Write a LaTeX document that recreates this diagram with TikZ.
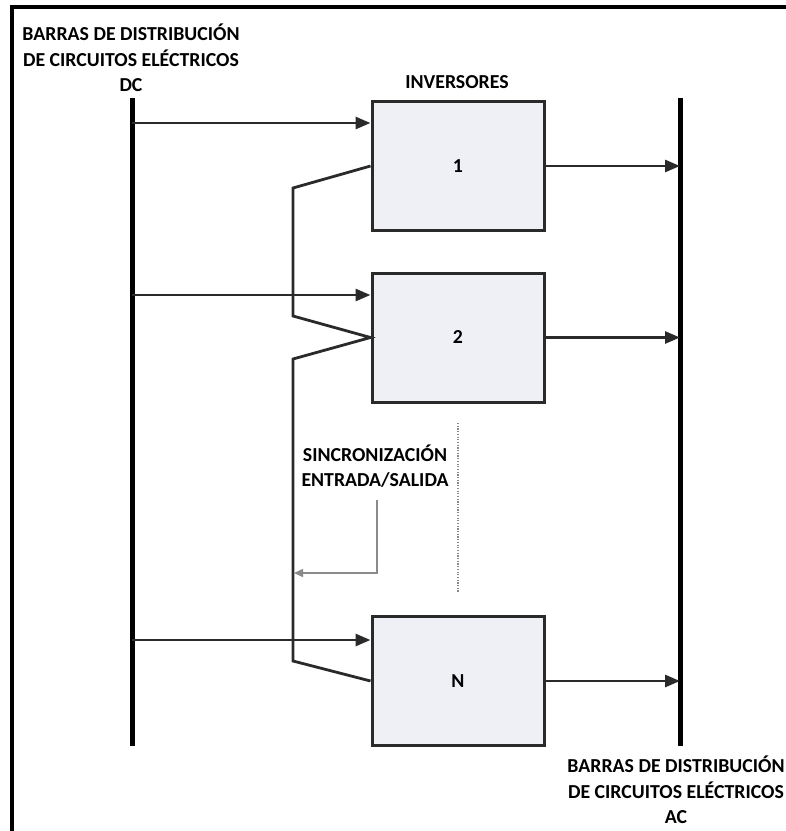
\documentclass[tikz,border=0pt]{standalone}
\usepackage{fontspec}
\setmainfont{Carlito}
\usetikzlibrary{arrows.meta}
\definecolor{boxfill}{HTML}{EEF0F5}
\definecolor{boxline}{HTML}{2A2A2A}
\definecolor{labgray}{HTML}{8A8A8A}
\begin{document}
\begin{tikzpicture}[x=1pt,y=-1pt,
  lbl/.style={font=\fontsize{19.8}{25.5}\selectfont\bfseries, align=center, inner sep=0pt},
  invbox/.style={draw=boxline, line width=3pt, fill=boxfill, minimum width=172pt, minimum height=129pt, inner sep=0pt, font=\fontsize{19.8}{22}\selectfont\bfseries},
  bus/.style={line width=5pt, black},
  flow/.style={line width=2.8pt, draw=boxline, -{Triangle[length=15pt,width=12pt]}},
  sync/.style={line width=2.8pt, draw=boxline, line join=miter},
  note/.style={line width=1.4pt, draw=labgray, -{Triangle[length=9pt,width=8pt]}},
  dots/.style={line width=1.2pt, draw=labgray, dash pattern=on 1.2pt off 1.5pt}
]
\useasboundingbox (0,0) rectangle (786,831);
% frame
\draw[line width=4pt, black] (12,831) -- (12,7) -- (786,7);
% buses
\coordinate (dctop) at (132,98);
\coordinate (dcbot) at (132,746);
\coordinate (actop) at (680,98);
\coordinate (acbot) at (680,746);
\draw[bus] (dctop) -- (dcbot);
\draw[bus] (actop) -- (acbot);
% labels
\node[lbl] (dclabel) at (131,58) {BARRAS DE DISTRIBUCIÓN\\DE CIRCUITOS ELÉCTRICOS\\DC};
\node[lbl] (aclabel) at (676,790) {BARRAS DE DISTRIBUCIÓN\\DE CIRCUITOS ELÉCTRICOS\\AC};
\node[lbl] (invlabel) at (457,82) {INVERSORES};
% boxes
\node[invbox] (box1) at (458,166) {1};
\node[invbox] (box2) at (458,337.5) {2};
\node[invbox] (boxN) at (458,681) {N};
% inputs
\coordinate (in1) at (132,123);
\coordinate (in2) at (132,295);
\coordinate (inN) at (132,640);
\draw[flow] (in1) -- (box1.west |- in1);
\draw[flow] (in2) -- (box2.west |- in2);
\draw[flow] (inN) -- (boxN.west |- inN);
% outputs
\draw[flow] (box1.east) -- (box1.east -| actop);
\draw[flow] (box2.east) -- (box2.east -| actop);
\draw[flow] (boxN.east) -- (boxN.east -| actop);
% synchronisation line
\coordinate (s1) at (293,188);
\coordinate (s2) at (293,316);
\coordinate (s3) at (293,359);
\coordinate (s4) at (293,661);
\draw[sync] (box1.west) -- (s1) -- (s2) -- (box2.west) -- (s3) -- (s4) -- (boxN.west);
% note
\node[lbl] (synclabel) at (375,466) {SINCRONIZACIÓN\\ENTRADA/SALIDA};
\coordinate (n1) at (377,500);
\coordinate (n2) at (377,573);
\coordinate (n3) at (294,573);
\draw[note] (n1) -- (n2) -- (n3);
% dotted ellipsis line
\coordinate (d1) at (458,423);
\coordinate (d2) at (458,592);
\draw[dots] (d1) -- (d2);
\end{tikzpicture}
\end{document}
